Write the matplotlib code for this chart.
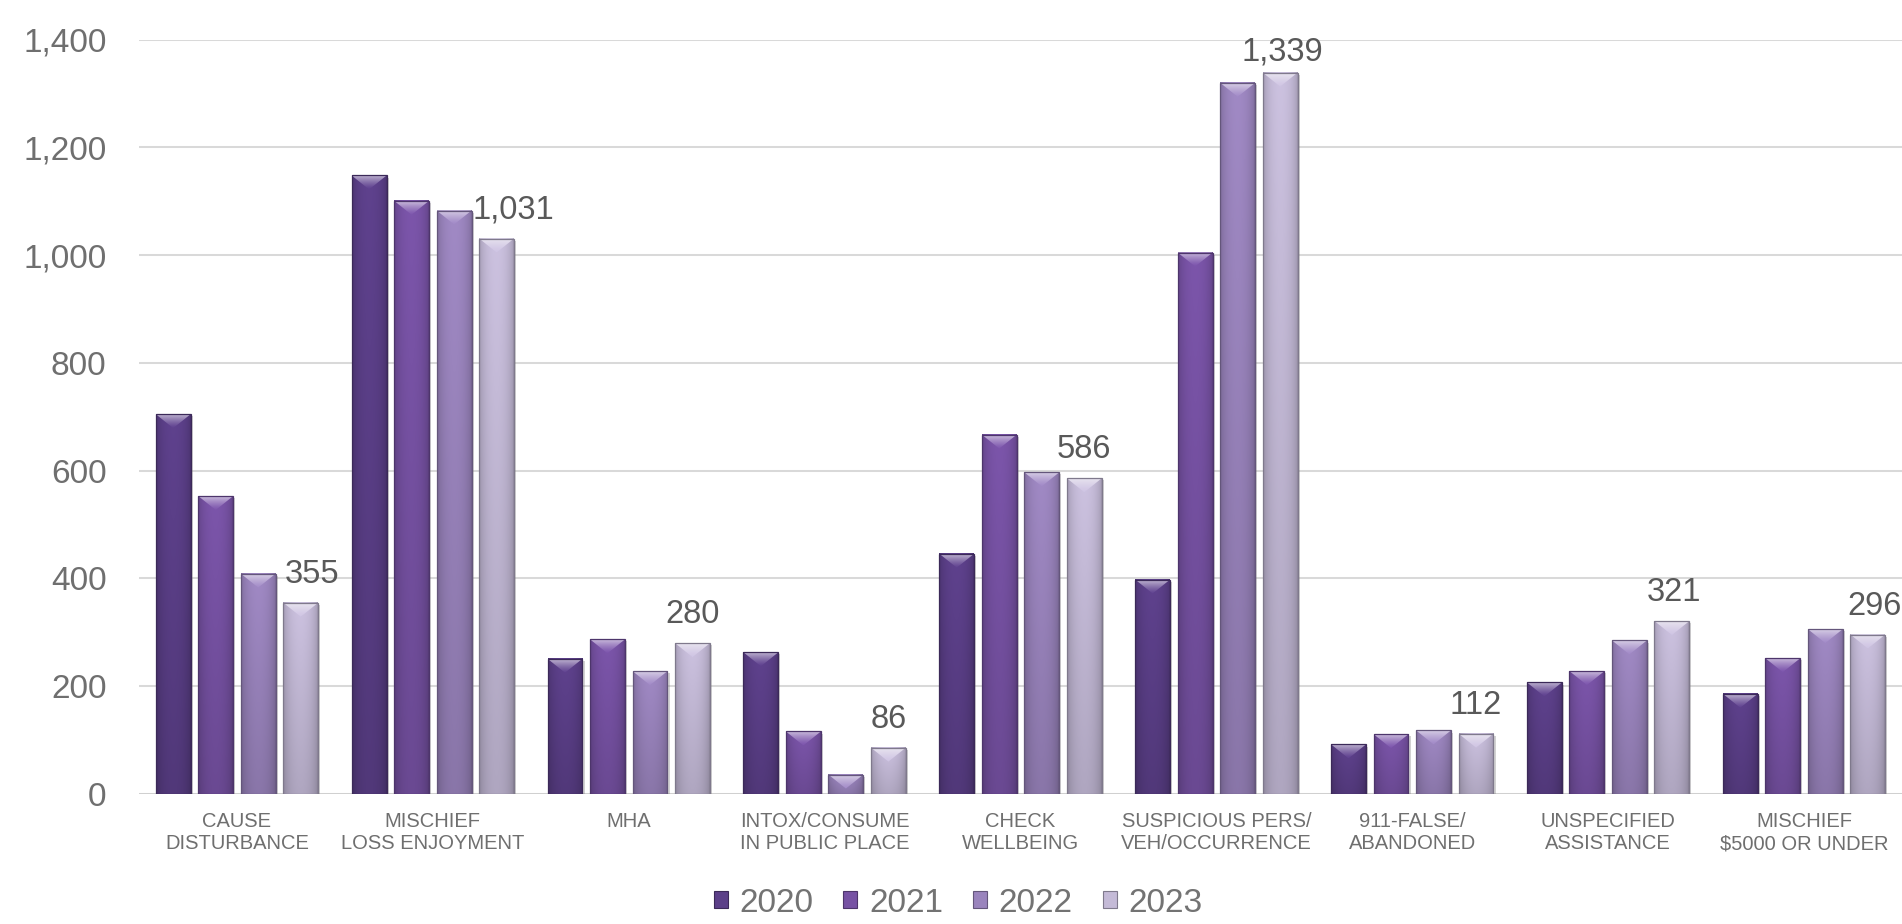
import numpy as np
import matplotlib
matplotlib.use('Agg')
import matplotlib.pyplot as plt
import matplotlib.patheffects as pe
from matplotlib.patches import Polygon, Rectangle, Patch
from matplotlib.colors import to_rgb

plt.rcParams['font.family'] = ['Liberation Sans', 'DejaVu Sans']

# -------------------------------------------------------------------------
categories = ['CAUSE\nDISTURBANCE', 'MISCHIEF\nLOSS ENJOYMENT', 'MHA',
              'INTOX/CONSUME\nIN PUBLIC PLACE', 'CHECK\nWELLBEING',
              'SUSPICIOUS PERS/\nVEH/OCCURRENCE', '911-FALSE/\nABANDONED',
              'UNSPECIFIED\nASSISTANCE', 'MISCHIEF\n$5000 OR UNDER']
years = ['2020', '2021', '2022', '2023']

calls_2020 = [705, 1148, 251, 263, 446, 398, 92, 207, 186]
calls_2021 = [553, 1101, 287, 116, 667, 1005, 111, 228, 252]
calls_2022 = [409, 1083, 228, 36, 597, 1320, 118, 285, 306]
calls_2023 = [355, 1031, 280, 86, 586, 1339, 112, 321, 296]

yticks = [0, 200, 400, 600, 800, 1000, 1200, 1400]
# -------------------------------------------------------------------------

series = [calls_2020, calls_2021, calls_2022, calls_2023]
colors = ['#5b3f88', '#7752a4', '#9a84bd', '#c4bad7']
label_dx = [11, 17, 0, 0, 0, 2, 0, 2, 7]   # pixel nudges for 2023 labels
label_dy = [0, 0, 0, 0, 0, -8, 0, 0, 0]

W, H, DPI = 19.02, 9.24, 100
fig = plt.figure(figsize=(W, H), dpi=DPI)
ax_rect = [0.0731, 0.1407, 1.0 - 0.0731, 0.957 - 0.1407]
ax = fig.add_axes(ax_rect)

pitch = 0.217
bw = 0.178
x = np.arange(len(categories))
xlim = (-0.5, len(categories) - 0.5)
ylim = (0, 1400)

# pixels per data unit, used for the bevel depth
px_x = ax_rect[2] * W * DPI / (xlim[1] - xlim[0])
px_y = ax_rect[3] * H * DPI / (ylim[1] - ylim[0])
bevel = 0.4 * bw * px_x / px_y


def mix(c, other, f):
    c = np.array(to_rgb(c))
    return tuple(np.clip(c * (1 - f) + np.array(other) * f, 0, 1))


t = np.linspace(0, 1, 40)
horiz = 0.80 + 0.24 * np.sin(np.pi * t) ** 0.5
s = np.linspace(0, 1, 60)
vert = 0.86 + 0.14 * s

shadow = pe.SimplePatchShadow(offset=(1.5, -1.5), shadow_rgbFace=(0.5, 0.5, 0.5), alpha=0.35)

for i, (vals, col) in enumerate(zip(series, colors)):
    xs = x + (i - 1.5) * pitch
    bars = ax.bar(xs, vals, width=bw, color=col, linewidth=0, zorder=2,
                  path_effects=[shadow, pe.Normal()], label=years[i])
    base = np.array(to_rgb(col))
    img = np.clip(base[None, None, :] * vert[:, None, None] * horiz[None, :, None], 0, 1)
    light = np.array(mix(col, (1, 1, 1), 0.6))
    tri_img = np.zeros((30, 2, 3))
    for k in range(30):
        f = (k / 29.0) ** 1.3
        tri_img[k, :, :] = base * (1 - f) * 1.06 + light * f
    tri_img = np.clip(tri_img, 0, 1)
    for p in bars:
        x0, w, h = p.get_x(), p.get_width(), p.get_height()
        ax.imshow(img, extent=(x0, x0 + w, 0, h), origin='lower', aspect='auto',
                  interpolation='bilinear', zorder=3)
        d = min(bevel, h)
        tri = Polygon([(x0, h), (x0 + w, h), (x0 + w / 2, h - d)], closed=True,
                      facecolor='none', edgecolor='none', zorder=4)
        ax.add_patch(tri)
        im = ax.imshow(tri_img, extent=(x0, x0 + w, h - d, h), origin='lower',
                       aspect='auto', interpolation='bilinear', zorder=4)
        im.set_clip_path(tri)
        ax.add_patch(Rectangle((x0, 0), w, h, fill=False,
                               edgecolor=mix(col, (0, 0, 0), 0.35), linewidth=0.9, zorder=5))

# data labels on the 2023 series
for j, v in enumerate(calls_2023):
    xc = x[j] + 1.5 * pitch
    ax.annotate(f'{v:,}', xy=(xc, v),
                xytext=(label_dx[j] * 72 / DPI, 14.4 + label_dy[j] * 72 / DPI),
                textcoords='offset points', ha='center', va='baseline',
                fontsize=23.5, color='#595959', zorder=6)

ax.set_xlim(*xlim)
ax.set_ylim(*ylim)
ax.set_yticks(yticks)
ax.set_yticklabels([f'{v:,}' for v in yticks])
ax.set_xticks(x)
ax.set_xticklabels(categories, fontsize=14.5, color='#6f6f6f', linespacing=1.2)
ax.tick_params(axis='y', length=0, pad=23.5, labelsize=24, labelcolor='#6f6f6f')
ax.tick_params(axis='x', length=0, pad=13)
for sp in ax.spines.values():
    sp.set_visible(False)
ax.grid(axis='y', color='#d9d9d9', linewidth=1.45, zorder=0)
ax.set_axisbelow(True)
ax.axhline(0, color='#d0d0d0', linewidth=2.0, zorder=1)

handles = [Patch(facecolor=c, edgecolor=mix(c, (0, 0, 0), 0.35), linewidth=0.8) for c in colors]
leg = fig.legend(handles, years, loc='center', bbox_to_anchor=(958 / 1902, 1 - 903 / 924),
                 ncol=4, frameon=False, fontsize=24, handlelength=0.42, handleheight=0.42,
                 handletextpad=0.35, columnspacing=0.9, labelcolor='#737373')

fig.savefig('out.png', dpi=DPI)
